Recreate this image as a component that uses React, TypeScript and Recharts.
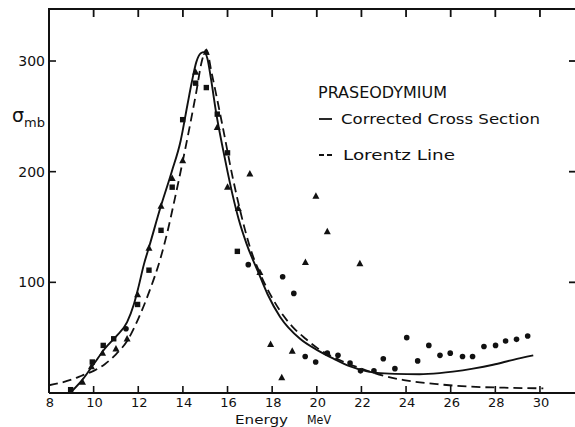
import { ComposedChart, Line, Scatter, XAxis, YAxis } from "recharts";

const INK = "#111";
const FONT = "'DejaVu Sans', sans-serif";

const X_MIN = 8;
const X_MAX = 31.66;
const Y_MAX = 347;

const X_TICKS = [8, 10, 12, 14, 16, 18, 20, 22, 24, 26, 28, 30];
const TOP_TICKS = [10, 12, 14, 16, 18, 20, 22, 24, 26, 28, 30];
const Y_TICKS = [100, 200, 300];

// [energy MeV, sigma mb]
const CORRECTED: [number, number][] = [
  [8.95, 0], [9.5, 12], [10, 26], [10.5, 40], [11, 51], [11.5, 64], [11.8, 80],
  [12, 95], [12.25, 116], [12.5, 133], [13, 168], [13.5, 200], [13.9, 228],
  [14.2, 260], [14.4, 281], [14.6, 299], [14.8, 307], [14.95, 308], [15.1, 302],
  [15.25, 285], [15.5, 252], [15.75, 225], [16, 200], [16.25, 177], [16.5, 157],
  [16.85, 135], [17.4, 108], [17.8, 89], [18.35, 69], [19.25, 49], [20, 39],
  [20.75, 31], [21.5, 24], [22.25, 19.5], [22.7, 18.2], [23.5, 17.3], [24.6, 17],
  [25.5, 18], [26.1, 19.3], [27, 22], [27.9, 25.5], [28.8, 30], [29.7, 34],
];

const LORENTZ: [number, number][] = [
  [8, 7], [9, 12], [9.5, 16], [10, 20], [10.5, 26], [11, 35], [11.5, 47], [12, 67],
  [12.5, 92], [13, 122], [13.3, 145], [13.6, 172], [14.1, 220], [14.6, 272],
  [14.85, 300], [15.05, 310], [15.3, 288], [15.75, 244], [16.25, 193], [16.6, 162],
  [17, 132], [17.5, 106], [18, 86], [18.5, 70], [19, 58], [19.5, 49], [20, 41],
  [21, 30], [22, 22], [22.5, 18.5], [23, 15.5], [23.9, 11.7], [25.4, 8], [26.9, 5.7],
  [28.4, 4.8], [30.15, 4.2],
];

const TRIANGLES: [number, number][] = [
  [9.5, 10], [9.9, 24], [10.4, 36], [11.0, 40], [11.5, 49], [11.97, 89],
  [12.48, 131], [13.02, 169], [13.52, 194], [13.99, 210], [14.57, 290], [15.05, 308],
  [15.54, 240], [16.0, 186], [16.48, 167], [17.0, 198], [17.45, 109], [17.93, 44],
  [18.43, 14], [18.9, 38], [19.49, 118], [19.96, 178], [20.47, 146], [21.93, 117],
];

const SQUARES: [number, number][] = [
  [8.97, 3], [9.94, 28], [10.43, 43], [10.9, 49], [11.97, 80], [12.48, 111],
  [13.02, 147], [13.52, 186], [13.99, 247], [14.57, 280], [15.05, 276], [15.54, 252],
  [16.0, 217], [16.44, 128],
];

const CIRCLES: [number, number][] = [
  [11.45, 58], [16.93, 116], [18.47, 105], [18.97, 90], [19.48, 33], [19.95, 28],
  [20.47, 36], [20.95, 34], [21.49, 27], [21.96, 20], [22.56, 20], [22.98, 31],
  [23.5, 22], [24.03, 50], [24.52, 29], [25.02, 43], [25.52, 34], [25.98, 36],
  [26.53, 33], [26.98, 33], [27.49, 42], [28.01, 43], [28.46, 47], [28.95, 48.5],
  [29.45, 51.5],
];

const rows = (pts: [number, number][]) => pts.map(([e, s]) => ({ e, s }));
// frame ticks on the top and right edges, placed through the chart's own scales
const topTickRows = TOP_TICKS.map((e) => ({ e, s: Y_MAX }));
const rightTickRows = Y_TICKS.map((s) => ({ e: X_MAX, s }));

const Triangle = ({ cx, cy }: any) => (
  <path d={`M${cx},${cy - 3.8} L${cx + 3.5},${cy + 2.7} L${cx - 3.5},${cy + 2.7} Z`} fill={INK} />
);
const Square = ({ cx, cy }: any) => (
  <rect x={cx - 2.7} y={cy - 2.7} width={5.4} height={5.4} fill={INK} />
);
const Dot = ({ cx, cy }: any) => <circle cx={cx} cy={cy} r={2.8} fill={INK} />;
const DownTick = ({ cx, cy }: any) => (
  <path d={`M${cx},${cy} L${cx},${cy + 8}`} stroke={INK} strokeWidth={1.8} fill="none" />
);
const LeftwardTick = ({ cx, cy }: any) => (
  <path d={`M${cx},${cy} L${cx - 8},${cy}`} stroke={INK} strokeWidth={1.8} fill="none" />
);

const BottomTick = ({ x, y, payload }: any) => (
  <g>
    {payload.value !== 8 && <line x1={x} x2={x} y1={y} y2={y - 7} stroke={INK} strokeWidth={1.6} />}
    <text x={x + 1} y={y + 14} textAnchor="middle" fontFamily={FONT} fontSize={13} fill={INK}>
      {payload.value}
    </text>
  </g>
);
const LeftTick = ({ x, y, payload }: any) => (
  <g>
    <line x1={x} x2={x + 7} y1={y} y2={y} stroke={INK} strokeWidth={1.6} />
    <text x={x - 4} y={y + 5} textAnchor="end" fontFamily={FONT} fontSize={14} fill={INK}>
      {payload.value}
    </text>
  </g>
);

const axisLine = { stroke: INK, strokeWidth: 2 };

export default function App() {
  return (
    <div style={{ position: "absolute", left: 0, top: 0, width: 575, height: 427, overflow: "hidden", background: "#fff" }}>
      <ComposedChart width={580} height={427} margin={{ top: 9, right: 3, bottom: 0, left: 0 }}>
        <XAxis
          type="number"
          dataKey="e"
          domain={[X_MIN, X_MAX]}
          ticks={X_TICKS}
          interval={0}
          height={34}
          tickSize={0}
          tickMargin={0}
          tickLine={false}
          axisLine={axisLine}
          tick={<BottomTick />}
        />
        <YAxis
          type="number"
          dataKey="s"
          domain={[0, Y_MAX]}
          ticks={Y_TICKS}
          interval={0}
          width={49}
          tickSize={0}
          tickMargin={0}
          tickLine={false}
          axisLine={axisLine}
          tick={<LeftTick />}
        />
        <line x1={48} x2={580} y1={9} y2={9} stroke={INK} strokeWidth={2} />
        <Scatter data={topTickRows} dataKey="s" shape={<DownTick />} isAnimationActive={false} />
        <Scatter data={rightTickRows} dataKey="s" shape={<LeftwardTick />} isAnimationActive={false} />
        <Line
          data={rows(LORENTZ)}
          dataKey="s"
          type="monotone"
          stroke={INK}
          strokeWidth={1.8}
          strokeDasharray="9 5"
          dot={false}
          isAnimationActive={false}
        />
        <Line
          data={rows(CORRECTED)}
          dataKey="s"
          type="monotone"
          stroke={INK}
          strokeWidth={1.9}
          dot={false}
          isAnimationActive={false}
        />
        <Scatter data={rows(TRIANGLES)} dataKey="s" shape={<Triangle />} isAnimationActive={false} />
        <Scatter data={rows(SQUARES)} dataKey="s" shape={<Square />} isAnimationActive={false} />
        <Scatter data={rows(CIRCLES)} dataKey="s" shape={<Dot />} isAnimationActive={false} />

        <text x={12} y={122} fontFamily={FONT} fontSize={19} fill={INK}>
          σ<tspan fontSize={13} dy={5}>mb</tspan>
        </text>
        <text x={235} y={424} fontFamily={FONT} fontSize={13} fill={INK} textLength={53} lengthAdjust="spacingAndGlyphs">
          Energy
        </text>
        <text x={307} y={424} fontFamily={FONT} fontSize={13} fill={INK} textLength={24} lengthAdjust="spacingAndGlyphs">
          MeV
        </text>

        <text x={318} y={98} fontFamily={FONT} fontSize={15} fill={INK} textLength={129} lengthAdjust="spacingAndGlyphs">
          PRASEODYMIUM
        </text>
        <line x1={319} x2={332} y1={119} y2={119} stroke={INK} strokeWidth={1.8} />
        <text x={341} y={124} fontFamily={FONT} fontSize={14.5} fill={INK} textLength={199} lengthAdjust="spacingAndGlyphs">
          Corrected Cross Section
        </text>
        <line x1={319} x2={332} y1={155} y2={155} stroke={INK} strokeWidth={1.8} strokeDasharray="5 3" />
        <text x={343} y={160} fontFamily={FONT} fontSize={14.5} fill={INK} textLength={112} lengthAdjust="spacingAndGlyphs">
          Lorentz  Line
        </text>
      </ComposedChart>
      {/* top edge of the frame as a plain overlay */}
      <div style={{ position: "absolute", left: 48, top: 8, width: 530, height: 2, background: INK }} />
    </div>
  );
}
